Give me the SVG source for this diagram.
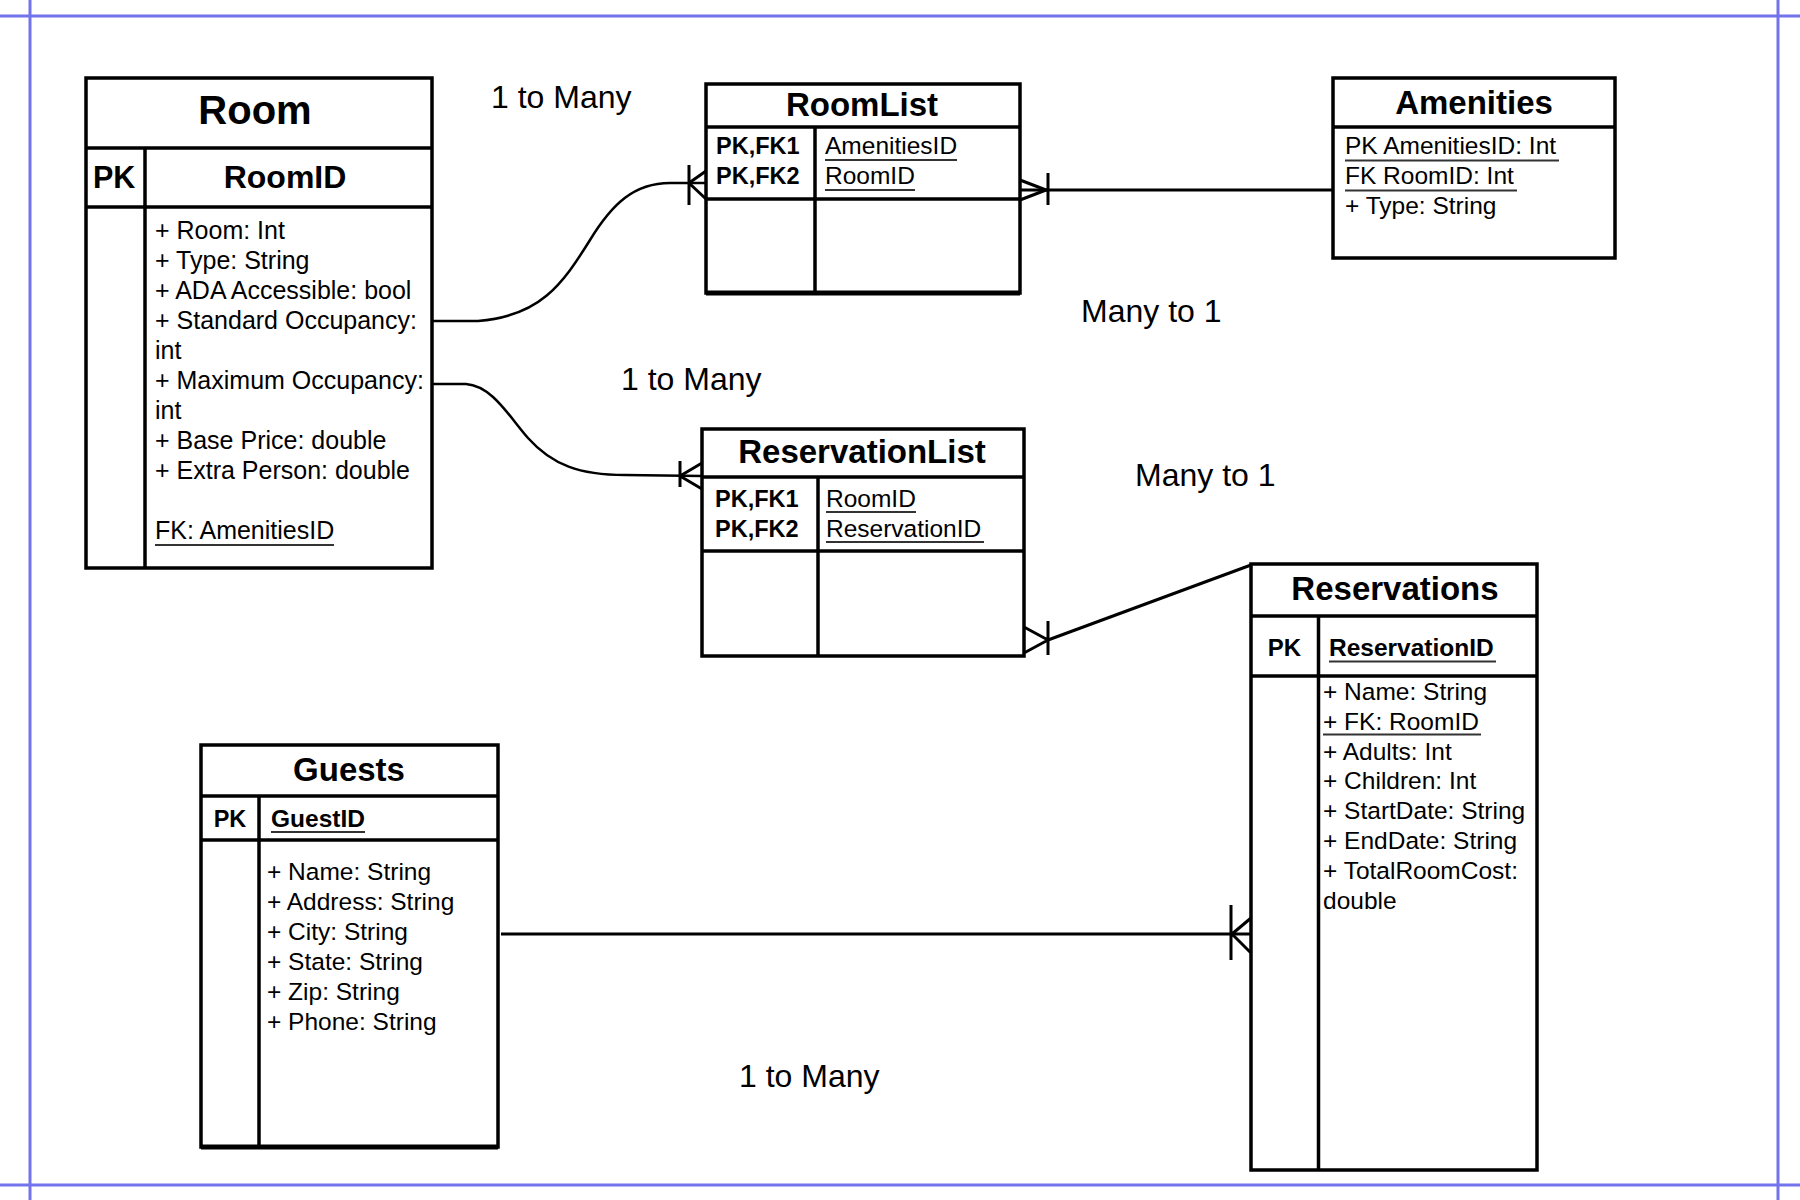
<svg xmlns="http://www.w3.org/2000/svg" width="1800" height="1200" viewBox="0 0 1800 1200">
<style>
text{font-family:"Liberation Sans",Arial,sans-serif;fill:#000}
.frame{stroke:#7373ee;stroke-width:3;fill:none}
.box{fill:none;stroke:#000;stroke-width:3.5}
.div{stroke:#000;stroke-width:3.5;fill:none}
.thick{stroke:#000;stroke-width:5;fill:none}
.title{font-weight:bold;font-size:33px;text-anchor:middle}
.key{font-weight:bold;font-size:23.5px}
.attr{font-size:24.5px}
.rattr{font-size:25px}
.ul{stroke:#333;stroke-width:2}
.conn{stroke:#000;stroke-width:3;fill:none}
.curve{stroke:#000;stroke-width:2.5;fill:none}
.label{font-size:32px}
</style>
<rect width="1800" height="1200" fill="#fff"/>
<g id="frame">
<line class="frame" x1="0" y1="16" x2="1800" y2="16"/>
<line class="frame" x1="0" y1="1185" x2="1800" y2="1185"/>
<line class="frame" x1="30" y1="0" x2="30" y2="1200"/>
<line class="frame" x1="1778" y1="0" x2="1778" y2="1200"/>
</g>
<g id="connectors">
<path class="curve" d="M432,321 L478,321 C540,316 562,285 590,240 C612,204 634,183 670,183 L706,183"/>
<path class="conn" d="M689,165 L689,205 M689,183 L706,171 M689,183 L706,199"/>
<path class="conn" d="M1020,190 L1333,190"/>
<path class="conn" d="M1048,173 L1048,205 M1046,190 L1020,180 M1046,190 L1020,200"/>
<path class="curve" d="M432,384 L466,384 C492,386 508,415 528,438 C552,465 580,475 625,475 L702,476"/>
<path class="conn" d="M680,461 L680,487 M680,476 L702,463 M680,476 L702,489"/>
<path class="conn" d="M1048,640 L1251,565"/>
<path class="conn" d="M1048,621 L1048,655 M1048,640 L1024,627 M1048,640 L1024,653"/>
<path class="conn" d="M501,934 L1251,934"/>
<path class="conn" d="M1231,905 L1231,960 M1232,934 L1251,918 M1232,934 L1251,953"/>
</g>
<g id="labels">
<text class="label" x="491" y="108">1 to Many</text>
<text class="label" x="1081" y="322">Many to 1</text>
<text class="label" x="621" y="390">1 to Many</text>
<text class="label" x="1135" y="486">Many to 1</text>
<text class="label" x="739" y="1087">1 to Many</text>
</g>
<g id="room">
<rect class="box" x="86" y="78" width="346" height="490" fill="#fff"/>
<line class="div" x1="86" y1="148" x2="432" y2="148"/>
<line class="div" x1="86" y1="207" x2="432" y2="207"/>
<line class="div" x1="145" y1="148" x2="145" y2="568"/>
<text class="title" x="255" y="124" style="font-size:40px">Room</text>
<text class="key" x="93" y="188" style="font-size:30.5px">PK</text>
<text class="title" x="285" y="188" style="font-size:32px">RoomID</text>
<text class="rattr" x="155" y="239">+ Room: Int</text>
<text class="rattr" x="155" y="269">+ Type: String</text>
<text class="rattr" x="155" y="299">+ ADA Accessible: bool</text>
<text class="rattr" x="155" y="329">+ Standard Occupancy:</text>
<text class="rattr" x="155" y="359">int</text>
<text class="rattr" x="155" y="389">+ Maximum Occupancy:</text>
<text class="rattr" x="155" y="419">int</text>
<text class="rattr" x="155" y="449">+ Base Price: double</text>
<text class="rattr" x="155" y="479">+ Extra Person: double</text>
<text class="rattr" x="155" y="539">FK: AmenitiesID</text>
<line class="ul" x1="155" y1="545" x2="334" y2="545"/>
</g>
<g id="roomlist">
<rect class="box" x="706" y="84" width="314" height="209"/>
<line class="thick" x1="706" y1="293" x2="1020" y2="293"/>
<line class="div" x1="706" y1="127" x2="1020" y2="127"/>
<line class="div" x1="706" y1="199" x2="1020" y2="199"/>
<line class="div" x1="815" y1="127" x2="815" y2="293"/>
<text class="title" x="862" y="116">RoomList</text>
<text class="key" x="716" y="154">PK,FK1</text>
<text class="key" x="716" y="184">PK,FK2</text>
<text class="attr" x="825" y="154">AmenitiesID</text>
<line class="ul" x1="825" y1="160" x2="957" y2="160"/>
<text class="attr" x="825" y="184">RoomID</text>
<line class="ul" x1="825" y1="190" x2="915" y2="190"/>
</g>
<g id="amenities">
<rect class="box" x="1333" y="78" width="282" height="180"/>
<line class="div" x1="1333" y1="127" x2="1615" y2="127"/>
<text class="title" x="1474" y="114">Amenities</text>
<text class="attr" x="1345" y="154">PK AmenitiesID: Int</text>
<line class="ul" x1="1345" y1="160.5" x2="1559" y2="160.5"/>
<text class="attr" x="1345" y="184">FK RoomID: Int</text>
<line class="ul" x1="1345" y1="190.5" x2="1517" y2="190.5"/>
<text class="attr" x="1345" y="214">+ Type: String</text>
</g>
<g id="reservationlist">
<rect class="box" x="702" y="429" width="322" height="227"/>
<line class="div" x1="702" y1="477" x2="1024" y2="477"/>
<line class="div" x1="702" y1="551" x2="1024" y2="551"/>
<line class="div" x1="818" y1="477" x2="818" y2="656"/>
<text class="title" x="862" y="463">ReservationList</text>
<text class="key" x="715" y="507">PK,FK1</text>
<text class="key" x="715" y="537">PK,FK2</text>
<text class="attr" x="826" y="507">RoomID</text>
<line class="ul" x1="826" y1="512" x2="916" y2="512"/>
<text class="attr" x="826" y="537">ReservationID</text>
<line class="ul" x1="826" y1="542" x2="984" y2="542"/>
</g>
<g id="reservations">
<rect class="box" x="1251" y="564" width="286" height="606"/>
<line class="div" x1="1251" y1="616" x2="1537" y2="616"/>
<line class="div" x1="1251" y1="676" x2="1537" y2="676"/>
<line class="div" x1="1318.5" y1="616" x2="1318.5" y2="1170"/>
<text class="title" x="1395" y="600">Reservations</text>
<text class="key" x="1284.5" y="656" style="text-anchor:middle;font-size:24px">PK</text>
<text class="key" x="1329" y="656" style="font-size:24.5px">ReservationID</text>
<line class="ul" x1="1329" y1="661.5" x2="1496" y2="661.5"/>
<text class="attr" x="1323" y="700">+ Name: String</text>
<text class="attr" x="1323" y="729.8">+ FK: RoomID</text>
<line class="ul" x1="1323" y1="734.5" x2="1481" y2="734.5"/>
<text class="attr" x="1323" y="759.6">+ Adults: Int</text>
<text class="attr" x="1323" y="789.4">+ Children: Int</text>
<text class="attr" x="1323" y="819.2">+ StartDate: String</text>
<text class="attr" x="1323" y="849">+ EndDate: String</text>
<text class="attr" x="1323" y="878.8">+ TotalRoomCost:</text>
<text class="attr" x="1323" y="908.6">double</text>
</g>
<g id="guests">
<rect class="box" x="201" y="745" width="297" height="402"/>
<line class="thick" x1="201" y1="1147" x2="498" y2="1147"/>
<line class="div" x1="201" y1="796" x2="498" y2="796"/>
<line class="div" x1="201" y1="840" x2="498" y2="840"/>
<line class="div" x1="259" y1="796" x2="259" y2="1147"/>
<text class="title" x="349" y="781">Guests</text>
<text class="key" x="230" y="827" style="text-anchor:middle">PK</text>
<text class="key" x="271" y="827" style="font-size:24.5px">GuestID</text>
<line class="ul" x1="271" y1="832" x2="365" y2="832"/>
<text class="attr" x="267" y="880">+ Name: String</text>
<text class="attr" x="267" y="910">+ Address: String</text>
<text class="attr" x="267" y="940">+ City: String</text>
<text class="attr" x="267" y="970">+ State: String</text>
<text class="attr" x="267" y="1000">+ Zip: String</text>
<text class="attr" x="267" y="1030">+ Phone: String</text>
</g>
</svg>
